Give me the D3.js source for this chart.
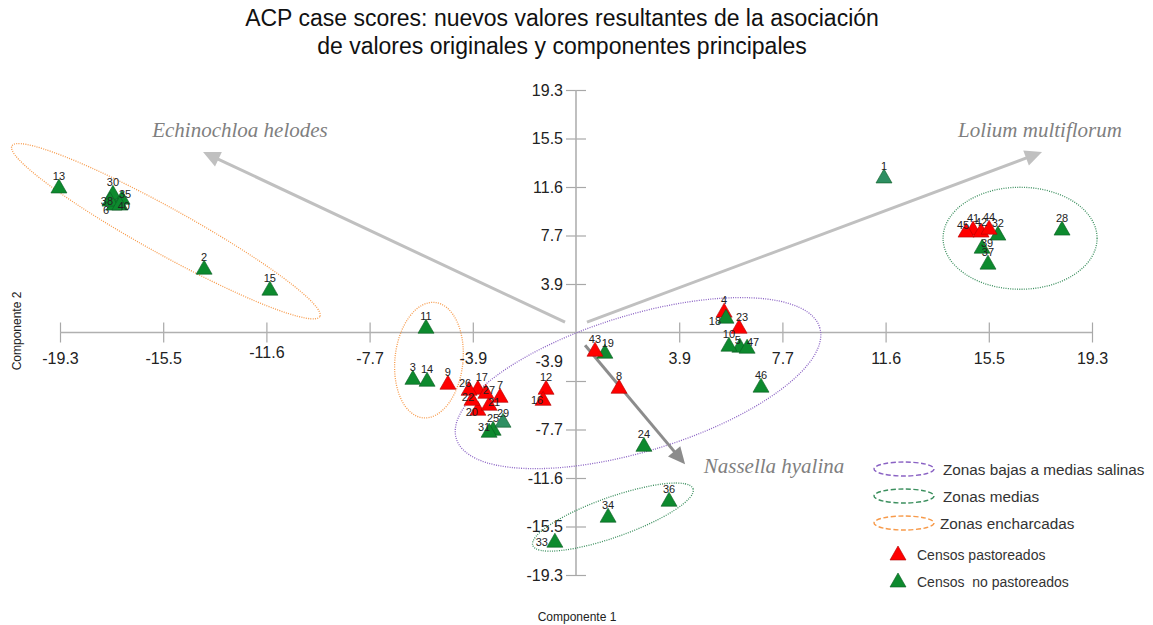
<!DOCTYPE html>
<html><head><meta charset="utf-8">
<script src="https://cdn.jsdelivr.net/npm/d3@7"></script>
<style>body{margin:0;background:#fff} svg{display:block;font-family:Arial,"Liberation Sans",sans-serif} text{white-space:pre}</style>
</head><body><svg id="c" width="1153" height="625"></svg>
<script>
// ---- data ----
const ids    = [1,2,3,4,5,6,7,8,9,10,11,12,13,14,15,16,17,18,19,20,21,22,23,24,25,26,27,28,29,30,31,32,33,34,35,36,37,38,39,40,41,42,43,44,45,46,47];
const pc1    = [11.52,-13.91,-6.10,5.54,6.13,-17.28,-2.84,1.61,-4.79,5.72,-5.61,-1.12,-19.34,-5.57,-11.45,-1.23,-3.67,5.61,1.08,-3.67,-3.25,-3.89,6.10,2.54,-3.10,-4.00,-3.37,18.18,-2.73,-17.32,-3.25,15.78,-0.79,1.20,-16.98,3.48,15.41,-17.43,15.19,-17.06,14.85,15.15,0.71,15.45,14.59,6.92,6.40];
const pc2    = [12.30,5.04,-3.73,1.62,-1.17,10.14,-5.16,-4.44,-4.12,-1.09,0.34,-4.52,11.50,-3.88,3.37,-5.40,-4.52,1.14,-1.65,-6.19,-5.79,-5.40,0.34,-9.06,-7.78,-4.60,-4.84,8.15,-7.14,11.00,-7.94,7.75,-16.69,-14.70,10.61,-13.43,5.44,10.46,6.71,10.14,8.15,7.99,-1.49,8.22,7.99,-4.35,-1.25];
const grazed = [0,0,0,1,0,0,1,1,1,0,0,1,0,0,0,1,1,0,0,1,1,1,1,0,0,1,1,0,0,0,0,0,0,0,0,0,0,0,0,0,1,1,1,1,1,0,0];
const tickValues = [-19.3,-15.44,-11.58,-7.72,-3.86,3.86,7.72,11.58,15.44,19.3];
const tickLabels = ["-19.3","-15.5","-11.6","-7.7","-3.9","3.9","7.7","11.6","15.5","19.3"];
const vectorNames = ["Echinochloa helodes","Lolium multiflorum","Nassella hyalina"];
const vectorFrom  = [[-0.41,0.82],[0.41,0.82],[0.34,-1.01]];
const vectorTo    = [[-13.95,14.36],[17.43,14.36],[4.08,-10.49]];
const zoneNames   = ["Zonas bajas a medias salinas","Zonas medias","Zonas encharcadas"];
const zoneCenters = [[-15.34,8.06,2],[-5.50,-2.20,2],[2.32,-4.03,0],[16.61,7.50,1],[1.38,-14.69,1]]; // [pc1, pc2, zone]
const groupNames  = ["Censos pastoreados","Censos  no pastoreados"];
const titleLines  = ["ACP case scores: nuevos valores resultantes de la asociación","de valores originales y componentes principales"];

// ---- style ----
const zoneColors = ["#8a62c4","#3b8f5e","#f79a4a"];
const ellipseShape = [[176,23,29],[34,58,6],[190,68,-17],[77,51,0],[85,20,-19.5]]; // rx, ry, rotation (px, deg)
const vectorColors = ["#c0c0c0","#c0c0c0","#8c8c8c"];
const vectorLabelPos = [[240,130],[1040,130],[774,466]];
const RED = "#ff0000", GREEN = "#0d8a2e", TEAL = "#2e8f62";
const tealIds = [1,29];
const labelOffset = {35:[3,-5],38:[-3,0],6:[-8,5],40:[4,1],26:[-4,-7],17:[4,-12],27:[3,-3],22:[-4,-3],21:[5,-3],20:[-6,2],31:[-5,-5],29:[0,-9],16:[-6,0],19:[3,-10],18:[-11,3],23:[3,-11],5:[-2,-7],47:[6,-6],33:[-13,0],45:[-3,-7],42:[0,-10],39:[5,-5]};

const svg = d3.select("#c");
const x = d3.scaleLinear().domain([-19.3,19.3]).range([60,1092]);
const y = d3.scaleLinear().domain([-19.3,19.3]).range([575,90]);

// title
svg.append("g").selectAll("text").data(titleLines).join("text")
  .attr("x",562).attr("y",(d,i)=>26+i*28).attr("text-anchor","middle")
  .attr("font-size",23).attr("fill","#111").text(d=>d);

// axes
const ax = svg.append("g").attr("transform",`translate(0,${y(0)-10})`)
  .call(d3.axisBottom(x).tickValues(tickValues).tickSize(20).tickSizeOuter(0).tickPadding(10)
    .tickFormat((d,i)=>tickLabels[i]));
ax.select(".domain").remove();
ax.selectAll("line").attr("stroke","#a8a8a8").attr("stroke-width",1.2);
ax.selectAll("text").attr("font-size",16).attr("fill","#222").attr("font-family","Arial, Liberation Sans")
  .attr("dy",(d,i)=> tickLabels[i]==="-11.6" ? "0.35em" : "0.71em");
svg.append("line").attr("x1",x(-19.3)).attr("x2",x(19.3)).attr("y1",y(0)).attr("y2",y(0))
  .attr("stroke","#b0b0b0").attr("stroke-width",1.6);

const ay = svg.append("g").attr("transform",`translate(${x(0)+10},0)`)
  .call(d3.axisLeft(y).tickValues(tickValues).tickSize(20).tickSizeOuter(0).tickPadding(3)
    .tickFormat((d,i)=>tickLabels[i]));
ay.select(".domain").remove();
ay.selectAll("line").attr("stroke","#a8a8a8").attr("stroke-width",1.2);
ay.selectAll("text").attr("font-size",16).attr("fill","#222").attr("font-family","Arial, Liberation Sans")
  .attr("dy",(d,i)=> tickLabels[i]==="-3.9" ? "-0.9em" : "0.32em");
svg.append("line").attr("x1",x(0)).attr("x2",x(0)).attr("y1",y(19.3)).attr("y2",y(-19.3))
  .attr("stroke","#b0b0b0").attr("stroke-width",1.6);

// axis titles
svg.append("text").attr("x",577).attr("y",621).attr("text-anchor","middle").attr("font-size",12).attr("fill","#222").text("Componente 1");
svg.append("text").attr("transform","translate(21,331) rotate(-90)").attr("text-anchor","middle").attr("font-size",12).attr("fill","#222").text("Componente 2");

// ellipses
svg.append("g").selectAll("ellipse").data(zoneCenters).join("ellipse")
  .attr("cx",0).attr("cy",0)
  .attr("rx",(d,i)=>ellipseShape[i][0]).attr("ry",(d,i)=>ellipseShape[i][1])
  .attr("transform",(d,i)=>`translate(${x(d[0])},${y(d[1])}) rotate(${ellipseShape[i][2]})`)
  .attr("fill","none").attr("stroke",d=>zoneColors[d[2]]).attr("stroke-width",1.3)
  .attr("stroke-dasharray","1,1.3");

// vectors
const vg = svg.append("g");
vectorNames.forEach((name,i)=>{
  const x1=x(vectorFrom[i][0]), y1=y(vectorFrom[i][1]), x2=x(vectorTo[i][0]), y2=y(vectorTo[i][1]);
  const a = Math.atan2(y2-y1,x2-x1), L=17, hw=8;
  const bx = x2-L*Math.cos(a), by = y2-L*Math.sin(a);
  vg.append("line").attr("x1",x1).attr("y1",y1).attr("x2",bx+4*Math.cos(a)).attr("y2",by+4*Math.sin(a))
    .attr("stroke",vectorColors[i]).attr("stroke-width",3);
  vg.append("path").attr("d",`M${x2},${y2}L${bx-hw*Math.sin(a)},${by+hw*Math.cos(a)}L${bx+hw*Math.sin(a)},${by-hw*Math.cos(a)}Z`)
    .attr("fill",vectorColors[i]);
  vg.append("text").attr("x",vectorLabelPos[i][0]).attr("y",vectorLabelPos[i][1]+7).attr("text-anchor","middle")
    .attr("font-family","Liberation Serif, Times New Roman, serif").attr("font-style","italic")
    .attr("font-size",21).attr("fill","#7f7f7f").text(name);
});

// points
const tri = "M0,-9L8,5L-8,5Z";
const pts = ids.map((id,i)=>({id, px:pc1[i], py:pc2[i], g:grazed[i]}));
const pg = svg.append("g");
pg.selectAll("path").data(pts).join("path")
  .attr("d",tri).attr("transform",d=>`translate(${x(d.px)},${y(d.py)})`)
  .attr("fill",d=> d.g ? RED : (tealIds.includes(d.id) ? TEAL : GREEN))
  .attr("stroke",d=> d.g ? "#b00000" : "#0a5a22").attr("stroke-width",0.6);
pg.selectAll("text").data(pts).join("text")
  .attr("x",d=>x(d.px)+(labelOffset[d.id]||[0,-12])[0])
  .attr("y",d=>y(d.py)+(labelOffset[d.id]||[0,-12])[1]+4)
  .attr("text-anchor","middle").attr("font-size",11).attr("fill","#222").text(d=>d.id);

// legend
const lg = svg.append("g");
zoneNames.forEach((n,i)=>{
  const cy = 469+i*27;
  lg.append("ellipse").attr("cx",904).attr("cy",cy).attr("rx",30).attr("ry",7)
    .attr("fill","none").attr("stroke",zoneColors[i]).attr("stroke-width",1.4).attr("stroke-dasharray","5,2.5");
  lg.append("text").attr("x",943-(i===2?3:0)).attr("y",cy+6).attr("font-size",15.3).attr("fill","#333").text(n);
});
groupNames.forEach((n,i)=>{
  const cy = 555+i*27;
  lg.append("path").attr("d",tri).attr("transform",`translate(898,${cy})`)
    .attr("fill",i===0?RED:GREEN).attr("stroke",i===0?"#b00000":"#0a5a22").attr("stroke-width",0.6);
  lg.append("text").attr("x",917).attr("y",cy+5).attr("font-size",14).attr("fill","#333").text(n);
});
</script></body></html>
